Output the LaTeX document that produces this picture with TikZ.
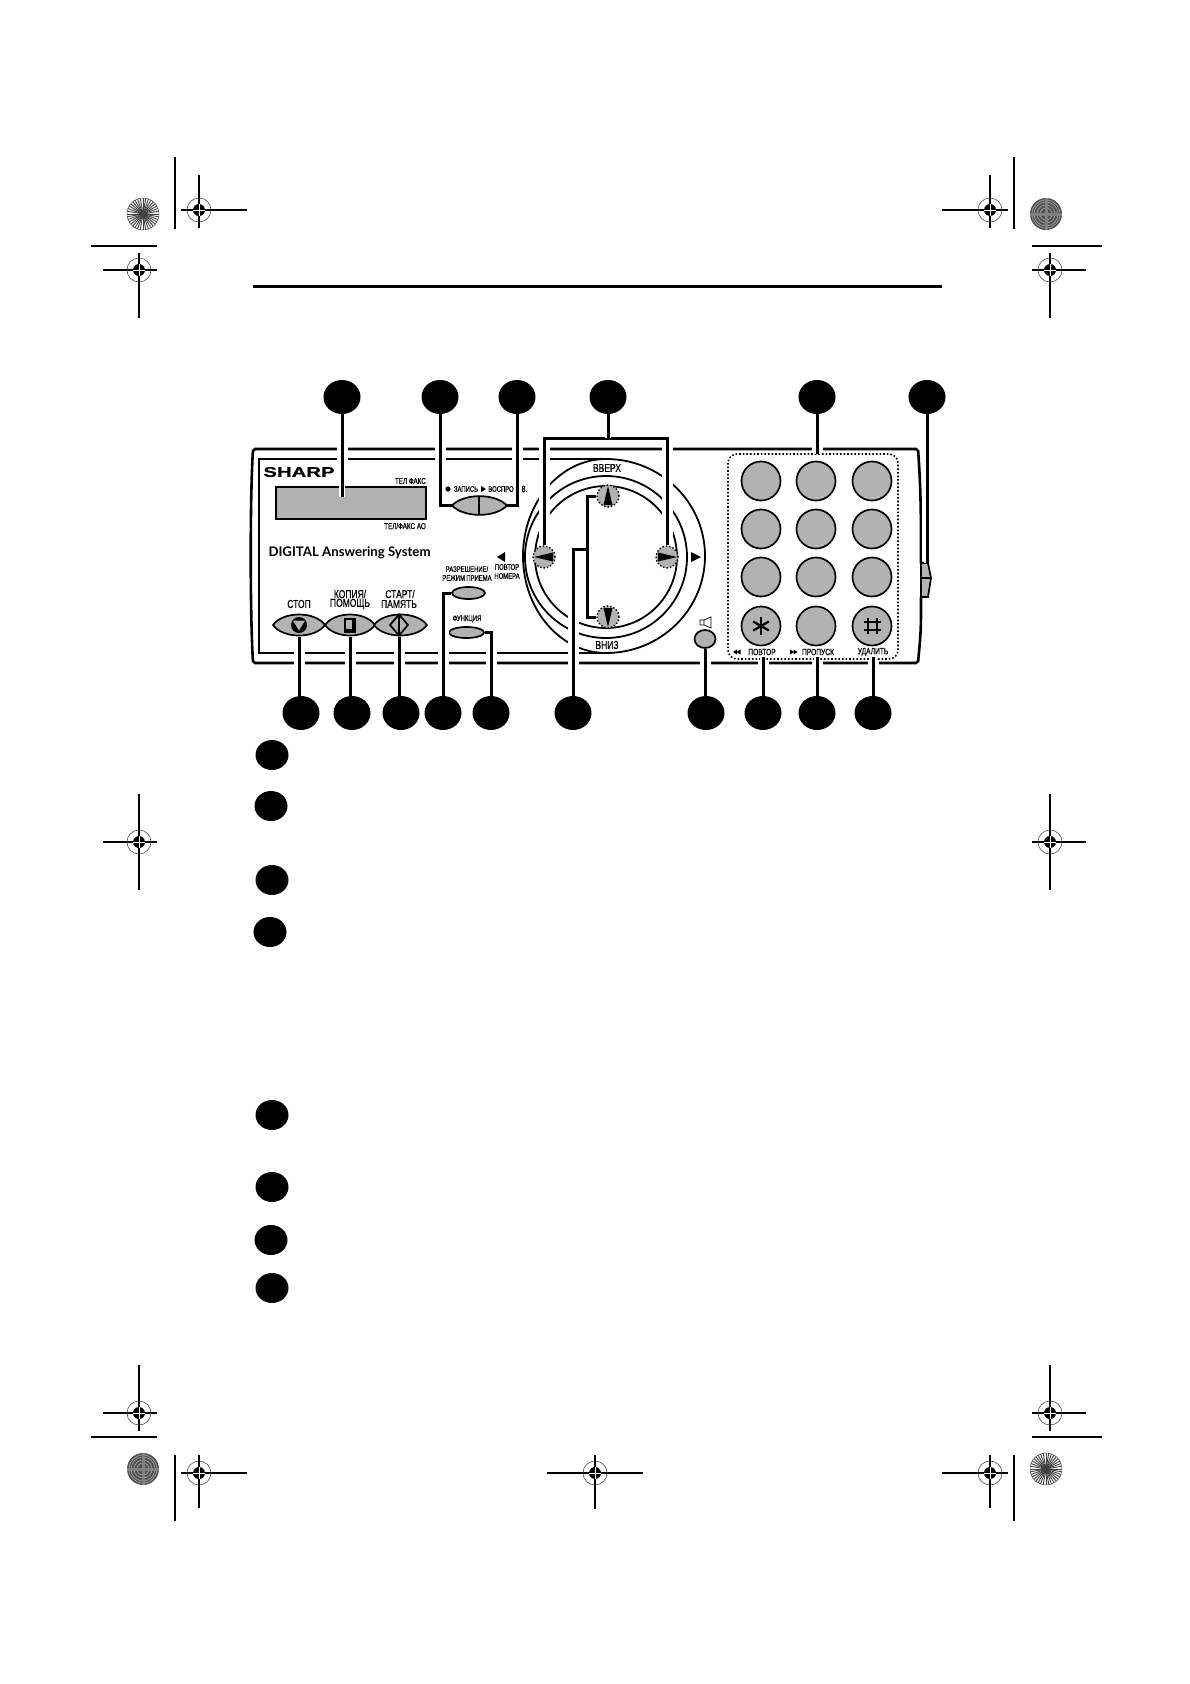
\documentclass[tikz,border=0pt]{standalone}
\usepackage{fontspec}
\setmainfont{Liberation Sans}
\newfontfamily\narrow[FakeStretch=0.74,FakeBold=0.5]{Liberation Sans}
\newfontfamily\wide[FakeStretch=1.45,FakeBold=0.6]{Liberation Sans}
\newfontfamily\sysfont{Lato}
\usepackage{tikz}
\usetikzlibrary{positioning}
\usetikzlibrary{shapes.geometric}
\definecolor{panelgray}{HTML}{B2B2B2}
\tikzset{leader/.style = {line width=3pt,preaction={draw=white,line width=11pt,shorten >=#1},preaction={draw=white,line width=6pt}},leader/.default=8pt}
\tikzset{lab/.style = {inner sep=0pt,font=\narrow\fontsize{9}{10}\selectfont}}
\tikzset{smalll/.style = {inner sep=0pt,font=\narrow\fontsize{8}{9}\selectfont}}
\tikzset{bigl/.style = {inner sep=0pt,font=\narrow\fontsize{11.5}{12}\selectfont}}
\tikzset{tinyl/.style = {inner sep=0pt,font=\narrow\fontsize{8.5}{9}\selectfont}}
\newcommand{\regmark}[6]{
  \draw[line width=1.1pt] (#3,#2) -- (#4,#2) (#1,#5) -- (#1,#6);
  \draw[line width=.6pt,black!70] (#1,#2) circle[radius=12];
  \fill (#1,#2) circle[radius=6];
  \draw[white,line width=.8pt] (#1-6,#2) -- (#1+6,#2) (#1,#2-6) -- (#1,#2+6);
}
\newcommand{\lightdisc}[2]{
  \fill[white] (#1,#2) circle[radius=16];
  \foreach \a in {0,10,...,350}
    \draw[line width=.9pt,black!75] (#1,#2) -- ++(\a:16);
  \draw[line width=.5pt,black!70] (#1,#2) circle[radius=16];
}
\newcommand{\darkdisc}[2]{
  \fill[black!68] (#1,#2) circle[radius=16];
  \foreach \r in {6,9,12,14}
    \draw[line width=.6pt,black!35] (#1,#2) circle[radius=\r];
  \foreach \a in {0,90,180,270}
    \draw[line width=3pt,black!50] (#1,#2) -- ++(\a:16);
}
\begin{document}
\begin{tikzpicture}[x=1pt,y=-1pt,
    num node/.style={ellipse,fill=black,inner sep=0pt,minimum width=37pt,minimum height=34pt},
    list node/.style={ellipse,fill=black,inner sep=0pt,minimum width=33pt,minimum height=30pt},
    key node/.style={circle,draw,fill=panelgray,line width=1.7pt,inner sep=0pt,minimum size=39pt},
    arrow key/.style={circle,draw,dotted,fill=panelgray,line width=1.4pt,inner sep=0pt,minimum size=22pt},
    flat button/.style={ellipse,draw,fill=panelgray,line width=1.7pt,inner sep=0pt},
    lens/.style={draw,fill=panelgray,line width=1.7pt}]
  \useasboundingbox (0,0) rectangle (1190,1684);

  \regmark{199}{210}{181}{247}{175}{228}
  \regmark{139}{270}{103}{157}{253}{318}
  \regmark{990}{210}{942}{1008}{175}{228}
  \regmark{1050}{270}{1032}{1086}{253}{318}
  \regmark{139}{842}{103}{157}{794}{890}
  \regmark{1050}{842}{1032}{1086}{794}{890}
  \regmark{139}{1413}{103}{157}{1365}{1431}
  \regmark{199}{1473}{181}{247}{1455}{1508}
  \regmark{595}{1473}{547}{643}{1455}{1509}
  \regmark{1050}{1413}{1032}{1086}{1365}{1431}
  \regmark{990}{1473}{942}{1008}{1455}{1508}
  \lightdisc{143}{214}
  \darkdisc{1046}{214}
  \darkdisc{143}{1469}
  \lightdisc{1046}{1469}
  \draw[line width=1.1pt] (175,157) -- (175,229) (91,246) -- (157,246);
  \draw[line width=1.1pt] (1014,157) -- (1014,229) (1032,246) -- (1102,246);
  \draw[line width=1.1pt] (91,1437) -- (157,1437) (175,1455) -- (175,1521);
  \draw[line width=1.1pt] (1032,1437) -- (1102,1437) (1014,1455) -- (1014,1521);
  \draw[line width=3pt] (253,286) -- (942,286);

  \draw[line width=2.6pt,rounded corners=2pt] (921,563) .. controls (921,520) and (921,490) .. (918,449) -- (253,449)
    .. controls (250,500) and (250,610) .. (253,663) -- (918,663) .. controls (921,630) .. (921,597);
  \draw[line width=2pt] (606,459) -- (259,459) -- (259,653) -- (606,653);
  \draw[line width=1.8pt] (523,556) arc[start angle=180,end angle=270,x radius=83,y radius=97]
    arc[start angle=270,end angle=450,x radius=99,y radius=97]
    arc[start angle=90,end angle=180,x radius=83,y radius=97];
  \draw[line width=1.8pt] (606,557) circle[radius=81];
  \draw[line width=1.8pt] (606,557) circle[radius=71];

  \node[num node] (numdisp) at (342,397) {};
  \node[num node] (numrec) at (440,397) {};
  \node[num node] (numplay) at (517,397) {};
  \node[num node] (numside) at (608,397) {};
  \node[num node] (numpad) at (817,397) {};
  \node[num node] (numclip) at (927,397) {};
  \node[num node] (numstop) at (301,713) {};
  \node[num node] (numcopy) at (352,713) {};
  \node[num node] (numstart) at (401,713) {};
  \node[num node] (numres) at (443,713) {};
  \node[num node] (numfunc) at (491,713) {};
  \node[num node] (numvert) at (573,713) {};
  \node[num node] (numspk) at (706,713) {};
  \node[num node] (numback) at (763,713) {};
  \node[num node] (numskip) at (817,713) {};
  \node[num node] (numdel) at (873,713) {};

  \node[list node] (l1) at (272,755) {};
  \node[list node] (l2) at (271,806) {};
  \node[list node] (l3) at (272,880) {};
  \node[list node] (l4) at (270,932) {};
  \node[list node] (l5) at (272,1115) {};
  \node[list node] (l6) at (272,1187) {};
  \node[list node] (l7) at (271,1240) {};
  \node[list node] (l8) at (272,1288) {};

  \node[draw,fill=panelgray,line width=1.8pt,inner sep=0pt,minimum width=150pt,minimum height=32pt] (display) at (351,503) {};
  \coordinate (disptip) at (342,497);

  \coordinate (recl) at (452,505.5);
  \coordinate (playr) at (507,505.5);
  \draw[lens] (recl) .. controls +(12,-12.5) and +(-12,-12.5) .. (playr) .. controls +(-12,12.5) and +(12,12.5) .. (recl) -- cycle;
  \draw[line width=1.6pt] (479,496) -- (479,515);

  \foreach \btn/\xl/\xr in {stop/273/325,copy/325/375,start/374/427} {
    \coordinate (\btn l) at (\xl,625);
    \coordinate (\btn r) at (\xr,625);
    \draw[lens] (\btn l) .. controls +(10,-14) and +(-10,-14) .. (\btn r) .. controls +(-10,14) and +(10,14) .. (\btn l) -- cycle;
  }
  \coordinate (stopb) at (299,637);
  \coordinate (copyb) at (350,637);
  \coordinate (startb) at (399,637);

  \fill (299,625) circle[radius=8];
  \fill[panelgray] (293,620.5) -- (305,620.5) -- (299,630.5) -- cycle;
  \fill (344,617.5) rectangle (356,633);
  \fill[panelgray] (346,619.5) rectangle (351.5,628.5);
  \draw[line width=1.7pt,fill=panelgray] (399,614.5) -- (408,625) -- (399,635.5) -- (390,625) -- cycle;
  \draw[line width=1.7pt] (399,614.5) -- (399,635.5);

  \node[flat button,minimum width=33pt,minimum height=12pt] (resbtn) at (468.5,593) {};
  \node[flat button,minimum width=35pt,minimum height=11pt] (funcbtn) at (466.5,632.5) {};
  \node[flat button,minimum width=21pt,minimum height=18pt] (spkbtn) at (705,639) {};

  \foreach \row/\yk in {1/481,2/529,3/577,4/626}
    \foreach \col/\xk in {1/761,2/816,3/872}
      \node[key node] (key\row\col) at (\xk,\yk) {};
  \foreach \a in {90,30,150}
    \draw[line width=2.2pt] (key41) ++(\a:9) -- ++(\a:-18);
  \draw[line width=2.4pt] (868,618) -- (868,634) (877,618) -- (877,634) (864,622) -- (881,622) (864,630) -- (881,630);

  \draw[line width=1.6pt,dotted,rounded corners=9pt] (728,454) rectangle (898,659);
  \coordinate (padtop) at (817,454);

  \draw[lens] (921,563) -- (928,563) -- (931,578) -- (928,597) -- (921,597) -- cycle;
  \draw[line width=1.3pt] (921,578) -- (931,578);
  \coordinate (cliptop) at (927,563);

  \node[arrow key] (upkey) at (608,496) {};
  \node[arrow key] (downkey) at (608,617) {};
  \node[arrow key] (leftkey) at (544,557) {};
  \node[arrow key] (rightkey) at (667,557) {};
  \fill (upkey) ++(0,-10) -- ++(4.5,19) -- ++(-9,0) -- cycle;
  \fill (downkey) ++(0,10) -- ++(4.5,-19) -- ++(-9,0) -- cycle;
  \fill (leftkey) ++(-10,0) -- ++(19,4.5) -- ++(0,-9) -- cycle;
  \fill (rightkey) ++(10,0) -- ++(-19,4.5) -- ++(0,-9) -- cycle;

  \coordinate (sidebar) at (608,438);
  \coordinate (vertbar) at (587,549);
  \coordinate (backb) at (763,657);
  \coordinate (skipb) at (817,657);
  \coordinate (delb) at (873,657);

  \draw[leader=12pt] (numdisp) -- (numdisp |- disptip);
  \draw[leader] (numrec) |- (recl);
  \draw[leader] (numplay) |- (playr);
  \draw[leader=3pt] (numpad) -- (numpad |- padtop);
  \draw[leader=2pt] (numclip) -- (numclip |- cliptop);
  \draw[leader=1pt] (leftkey.north) |- (sidebar) -| (rightkey.north);
  \draw[leader=1pt] (numside) -- (sidebar);
  \draw[leader] (numvert) |- (vertbar);
  \draw[line width=3pt] (upkey.west) -- (upkey.west -| vertbar) -- (downkey.west -| vertbar) -- (downkey.west);
  \draw[leader] (numstop.north -| stopb) -- (stopb);
  \draw[leader] (numcopy.north -| copyb) -- (copyb);
  \draw[leader] (numstart.north -| startb) -- (startb);
  \draw[leader=3pt] (numres) |- (resbtn.west);
  \draw[leader=3pt] (numfunc) |- (funcbtn.east);
  \draw[leader=2pt] (numspk.north -| spkbtn) -- (spkbtn.south);
  \draw[leader=3pt] (numback) -- (numback |- backb);
  \draw[leader=3pt] (numskip) -- (numskip |- skipb);
  \draw[leader=3pt] (numdel) -- (numdel |- delb);

  \fill (505,552) -- (505,562) -- (497,557) -- cycle;
  \fill (691,552) -- (691,562) -- (701,557) -- cycle;
  \fill (448,489) circle[radius=2.6];
  \fill (481,486) -- (481,492) -- (486,489) -- cycle;
  \foreach \dx in {0,3.5} {
    \fill (733+\dx,652) -- (737+\dx,649.5) -- (737+\dx,654.5) -- cycle;
    \fill (790+\dx,649.5) -- (790+\dx,654.5) -- (794+\dx,652) -- cycle;
  }
  \draw[line width=.7pt] (700,620) rectangle (704,625) (704,620) -- (711,617) -- (711,628) -- (704,625);

  \node[inner sep=0pt,font=\wide\bfseries\fontsize{14}{15}\selectfont] (brand) at (299,472) {SHARP};
  \node[inner sep=0pt,font=\sysfont\bfseries\fontsize{13.2}{14}\selectfont] (system) at (349.5,553) {DIGITAL Answering System};
  \node[tinyl,anchor=east] (telfax) at (426,481) {ТЕЛ  ФАКС};
  \node[tinyl,anchor=east] (telans) at (426,526) {ТЕЛ/ФАКС АО};
  \node[smalll] (reclab) at (466,489) {ЗАПИСЬ};
  \node[smalll] (playlab) at (501,489) {ВОСПРО};
  \node[lab] (eight) at (524.5,489) {8.};
  \node[smalll] (reslab) at (467,569) {РАЗРЕШЕНИЕ/};
  \node[smalll] (modelab) at (467,578) {РЕЖИМ\,ПРИЕМА};
  \node[smalll] (funclab) at (467,619) {ФУНКЦИЯ};
  \node[smalll] (redial) at (507,567) {ПОВТОР};
  \node[smalll] (redialb) at (507,576) {НОМЕРА};
  \node[bigl] (stoplab) at (299,604) {СТОП};
  \node[bigl] (copylab) at (350,594) {КОПИЯ/};
  \node[bigl] (helplab) at (350,604) {ПОМОЩЬ};
  \node[bigl] (startlab) at (400,594) {СТАРТ/};
  \node[bigl] (memlab) at (399,604) {ПАМЯТЬ};
  \node[bigl] (uplab) at (607,468) {ВВЕРХ};
  \node[bigl] (downlab) at (607,645) {ВНИЗ};
  \node[lab] (backlab) at (762,652) {ПОВТОР};
  \node[lab] (skiplab) at (818,652) {ПРОПУСК};
  \node[lab] (dellab) at (873,652) {УДАЛИТЬ};
\end{tikzpicture}
\end{document}
